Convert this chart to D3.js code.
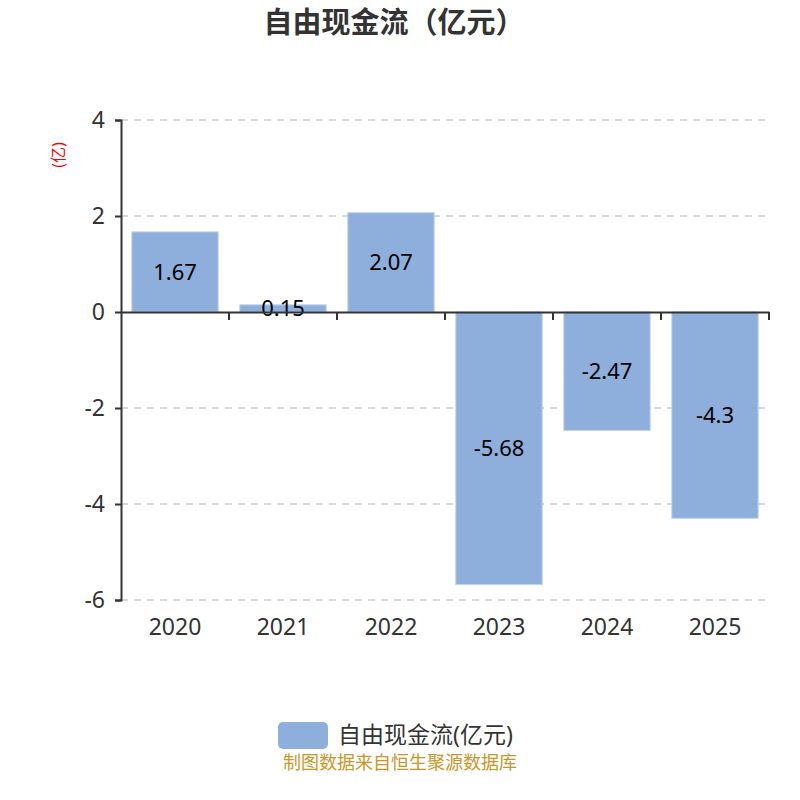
<!DOCTYPE html>
<html>
<head>
<meta charset="utf-8">
<script src="https://cdn.jsdelivr.net/npm/d3@7"></script>
<style>
  body { margin: 0; background: #fff; }
  text { font-family: "Noto Sans", "Noto Sans CJK SC", sans-serif; }
</style>
</head>
<body>
<script>
// chart data
var years = ["2020", "2021", "2022", "2023", "2024", "2025"];
var values = [1.67, 0.15, 2.07, -5.68, -2.47, -4.3];
var yTicks = [4, 2, 0, -2, -4, -6];
var seriesName = "自由现金流(亿元)";

var svgWidth = 800;
var svgHeight = 800;

var margin = { top: 120, right: 31, bottom: 200, left: 121 };
var chartWidth = svgWidth - margin.left - margin.right;
var chartHeight = svgHeight - margin.top - margin.bottom;

var svg = d3.select("body")
  .append("svg")
  .attr("width", svgWidth)
  .attr("height", svgHeight);

// title
svg.append("text")
  .attr("x", 394)
  .attr("y", 33)
  .attr("text-anchor", "middle")
  .attr("font-size", "29px")
  .attr("font-weight", "bold")
  .attr("fill", "#333")
  .text("自由现金流（亿元）");

// unit label
svg.append("text")
  .attr("transform", "translate(64, 155) rotate(-90)")
  .attr("text-anchor", "middle")
  .attr("font-size", "16px")
  .attr("fill", "red")
  .text("(亿)");

var chartGroup = svg.append("g")
  .attr("transform", `translate(${margin.left}, ${margin.top})`);

var xScale = d3.scaleBand()
  .domain(years)
  .range([0, chartWidth])
  .paddingInner(0.2)
  .paddingOuter(0.1);

var yScale = d3.scaleLinear()
  .domain([-6, 4])
  .range([chartHeight, 0]);

// grid lines
chartGroup.selectAll(".grid")
  .data(yTicks.filter(d => d !== 0))
  .enter()
  .append("line")
  .attr("x1", 0)
  .attr("x2", chartWidth)
  .attr("y1", d => yScale(d))
  .attr("y2", d => yScale(d))
  .attr("stroke", "#ccc")
  .attr("stroke-width", 1.5)
  .attr("stroke-dasharray", "7,6");

// bars
chartGroup.selectAll(".bar")
  .data(values)
  .enter()
  .append("rect")
  .attr("x", (d, i) => xScale(years[i]))
  .attr("y", d => yScale(Math.max(0, d)))
  .attr("width", xScale.bandwidth())
  .attr("height", d => Math.abs(yScale(d) - yScale(0)))
  .attr("fill", "#8eaedb")
  .attr("stroke", "#c5d6ee")
  .attr("stroke-width", 1);

// bar labels
chartGroup.selectAll(".label")
  .data(values)
  .enter()
  .append("text")
  .attr("x", (d, i) => xScale(years[i]) + xScale.bandwidth() / 2)
  .attr("y", d => (yScale(d) + yScale(0)) / 2)
  .attr("dy", "0.35em")
  .attr("text-anchor", "middle")
  .attr("font-size", "22px")
  .attr("fill", "#000")
  .text(d => d);

// y axis
var leftAxis = d3.axisLeft(yScale)
  .tickValues(yTicks)
  .tickSize(6)
  .tickPadding(10)
  .tickFormat(d => String(d));

var yAxisG = chartGroup.append("g").call(leftAxis);
yAxisG.select(".domain").attr("stroke", "#333").attr("stroke-width", 2);
yAxisG.selectAll(".tick line").attr("stroke", "#333").attr("stroke-width", 2);
yAxisG.selectAll(".tick text")
  .attr("font-size", "23px")
  .attr("fill", "#333")
  .attr("font-family", "\"Noto Sans\", sans-serif");

// x axis at zero
var bottomAxis = d3.axisBottom(xScale).tickSize(0).tickFormat("");
var xAxisG = chartGroup.append("g")
  .attr("transform", `translate(0, ${yScale(0)})`)
  .call(bottomAxis);
xAxisG.select(".domain").attr("stroke", "#333").attr("stroke-width", 2);

// boundary ticks between categories
var boundaries = d3.range(1, years.length + 1).map(i => i * chartWidth / years.length);
xAxisG.selectAll(".bt")
  .data(boundaries)
  .enter()
  .append("line")
  .attr("x1", d => d)
  .attr("x2", d => d)
  .attr("y1", 0)
  .attr("y2", 8)
  .attr("stroke", "#333")
  .attr("stroke-width", 2);

// category labels below chart
chartGroup.selectAll(".xlab")
  .data(years)
  .enter()
  .append("text")
  .attr("x", d => xScale(d) + xScale.bandwidth() / 2)
  .attr("y", chartHeight + 35)
  .attr("text-anchor", "middle")
  .attr("font-size", "23px")
  .attr("fill", "#333")
  .text(d => d);

// legend
svg.append("rect")
  .attr("x", 278)
  .attr("y", 722)
  .attr("width", 50)
  .attr("height", 27)
  .attr("rx", 5)
  .attr("fill", "#8eaedb");

svg.append("text")
  .attr("x", 338)
  .attr("y", 743)
  .attr("font-size", "23px")
  .attr("fill", "#333")
  .text(seriesName);

// source note
svg.append("text")
  .attr("x", 400)
  .attr("y", 769)
  .attr("text-anchor", "middle")
  .attr("font-size", "18px")
  .attr("fill", "#c8962a")
  .text("制图数据来自恒生聚源数据库");
</script>
</body>
</html>
